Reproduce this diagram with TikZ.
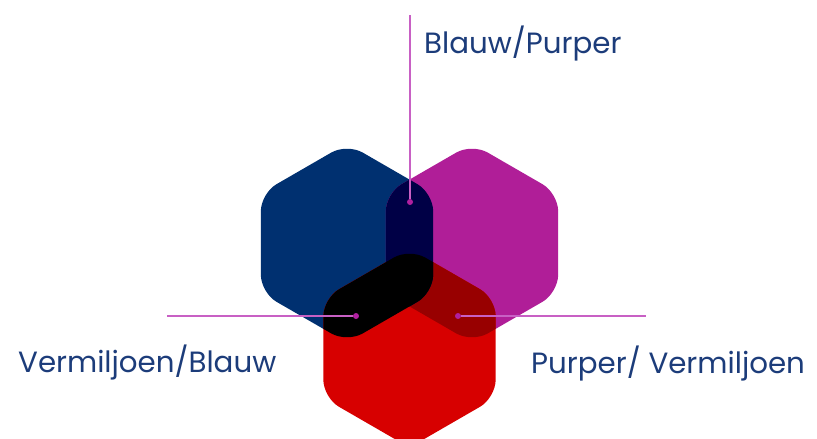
\documentclass[tikz,border=0pt]{standalone}
\usepackage{fontspec}
\setmainfont{Poppins}
\definecolor{hexblue}{RGB}{0,48,112}
\definecolor{hexpurple}{RGB}{176,30,152}
\definecolor{hexred}{RGB}{215,0,0}
\definecolor{bluepurple}{RGB}{0,0,70}
\definecolor{purplered}{RGB}{152,0,0}
\definecolor{leadmag}{RGB}{200,96,196}
\definecolor{dotmag}{RGB}{176,32,160}
\definecolor{txtblue}{RGB}{28,60,122}
\newcommand{\hexagon}[1]{(#1) +(90:99.5) -- +(30:99.5) -- +(-30:99.5) -- +(-90:99.5) -- +(-150:99.5) -- +(150:99.5) -- cycle}

\begin{document}
\begin{tikzpicture}[x=1pt,y=-1pt,
  hex/.style={rounded corners=18pt},
  lead/.style={leadmag,line width=1.2pt},
  dot/.style={circle,fill=dotmag,inner sep=0pt,minimum size=6pt},
  txt/.style={anchor=base west,text=txtblue,inner sep=0pt,font=\fontsize{29.3}{34}\selectfont}]
  \useasboundingbox (0,0) rectangle (817,439);
  \coordinate (blue) at (347,243);
  \coordinate (purple) at (472,243);
  \coordinate (red) at (409.5,348);
  \foreach \c in {blue,purple,red} { \fill[hex,hex\c] \hexagon{\c}; }
  % overlaps
  \begin{scope}
    \clip[hex] \hexagon{purple};
    \fill[hex,purplered] \hexagon{red};
  \end{scope}
  \begin{scope}
    \clip[hex] \hexagon{blue};
    \fill[hex,bluepurple] \hexagon{purple};
    \fill[hex,black] \hexagon{red};
  \end{scope}
  % leaders
  \node[dot] (bp) at (410,202) {};
  \node[dot] (vb) at (356,316) {};
  \node[dot] (pv) at (458,316) {};
  \coordinate (bpend) at (410,15);
  \coordinate (vbend) at (167,316);
  \coordinate (pvend) at (646,316);
  \draw[lead] (bp) -- (bpend);
  \draw[lead] (vb) -- (vbend);
  \draw[lead] (pv) -- (pvend);
  \node[txt] (bplab) at (424,53) {Blauw/Purper};
  \node[txt] (vblab) at (18,372) {Vermiljoen/Blauw};
  \node[txt] (pvlab) at (531,373) {Purper/ Vermiljoen};
\end{tikzpicture}
\end{document}
